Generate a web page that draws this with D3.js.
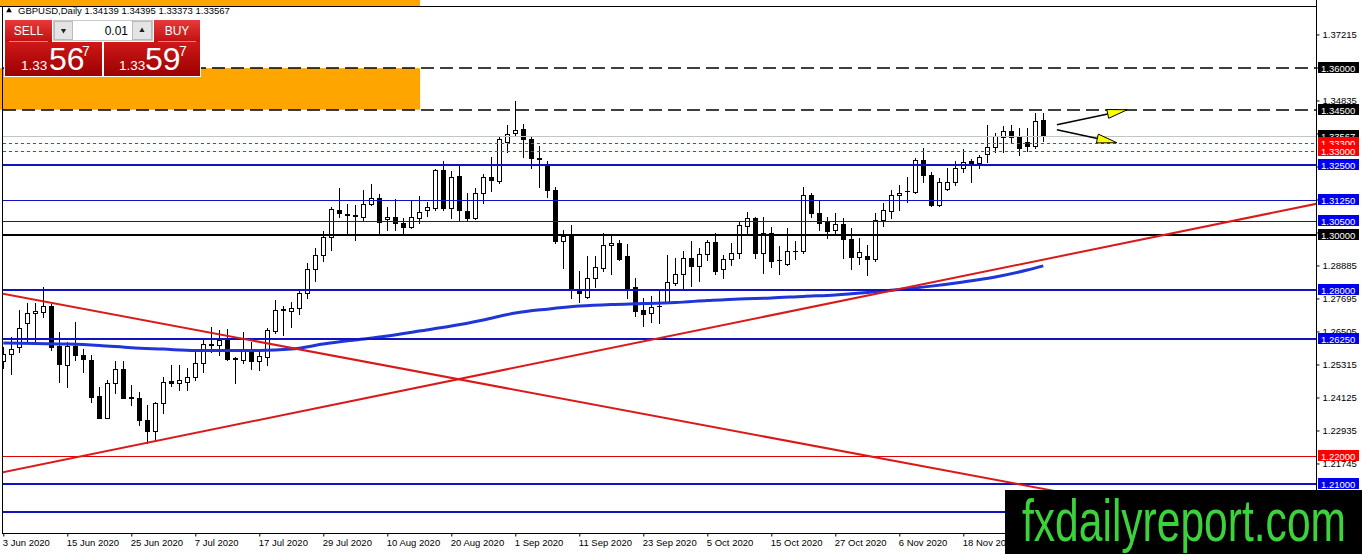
<!DOCTYPE html>
<html>
<head>
<meta charset="utf-8">
<script src="https://d3js.org/d3.v7.min.js"></script>
<style>
    body { margin: 0; background: #fff; overflow: hidden; }
    svg text { font-family: "Liberation Sans", Arial, sans-serif; }
</style>
</head>
<body>
<div id="chart"></div>
<script>
// GBPUSD daily candles, 3 Jun 2020 .. 2 Dec 2020
var opens = [1.2545,1.2569,1.2595,1.2680,1.2716,1.2722,1.2742,1.2598,1.2529,1.2598,
    1.2565,1.2547,1.2417,1.2340,1.2463,1.2514,1.2412,1.2412,1.2331,1.2292,
    1.2393,1.2472,1.2463,1.2470,1.2487,1.2535,1.2601,1.2601,1.2622,1.2554,
    1.2548,1.2578,1.2545,1.2560,1.2653,1.2728,1.2725,1.2734,1.2788,1.2877,
    1.2926,1.2990,1.3089,1.3074,1.3069,1.3065,1.3109,1.3133,1.3055,1.3065,
    1.3041,1.3026,1.3061,1.3089,1.3097,1.3233,1.3095,1.3212,1.3085,1.3059,
    1.3149,1.3209,1.3194,1.3333,1.3366,1.3381,1.3345,1.3275,1.3251,1.3161,
    1.2975,1.2996,1.2798,1.2776,1.2842,1.2881,1.2963,1.2971,1.2923,1.2810,
    1.2727,1.2716,1.2742,1.2758,1.2827,1.2857,1.2915,1.2885,1.2929,1.2972,
    1.2875,1.2911,1.2933,1.3032,1.3059,1.2933,1.3005,1.2910,1.2893,1.2942,
    1.2941,1.3143,1.3077,1.3047,1.3016,1.3037,1.2983,1.2920,1.2923,1.2911,
    1.3053,1.3085,1.3141,1.3157,1.3155,1.3267,1.3215,1.3107,1.3163,1.3188,
    1.3239,1.3266,1.3257,1.3291,1.3317,1.3351,1.3375,1.3351,1.3332,1.3320,
    1.34139];
var highs = [1.2595,1.2629,1.2728,1.2752,1.2754,1.2812,1.2749,1.2650,1.2614,1.2683,
    1.2586,1.2565,1.2451,1.2475,1.2544,1.2544,1.2459,1.2433,1.2385,1.2397,
    1.2487,1.2529,1.2530,1.2517,1.2584,1.2626,1.2668,1.2656,1.2659,1.2557,
    1.2649,1.2614,1.2578,1.2662,1.2764,1.2742,1.2758,1.2803,1.2899,1.2950,
    1.3013,1.3101,1.3167,1.3110,1.3107,1.3161,1.3182,1.3145,1.3101,1.3127,
    1.3059,1.3121,1.3139,1.3119,1.3237,1.3266,1.3230,1.3249,1.3149,1.3167,
    1.3218,1.3281,1.3354,1.3396,1.3480,1.3398,1.3354,1.3318,1.3266,1.3173,
    1.3017,1.3035,1.2867,1.2921,1.2923,1.3005,1.2999,1.2981,1.2965,1.2842,
    1.2772,1.2779,1.2800,1.2927,1.2914,1.2941,1.2975,1.2953,1.2981,1.3005,
    1.2927,1.2969,1.3047,1.3083,1.3065,1.3065,1.3029,1.2960,1.3023,1.2977,
    1.3173,1.3149,1.3121,1.3065,1.3077,1.3061,1.3023,1.2987,1.2963,1.3077,
    1.3113,1.3161,1.3179,1.3207,1.3275,1.3311,1.3227,1.3203,1.3239,1.3266,
    1.3308,1.3272,1.3287,1.3396,1.3366,1.3392,1.3396,1.3384,1.3384,1.3440,
    1.34395];
var lows = [1.2520,1.2496,1.2577,1.2614,1.2614,1.2704,1.2583,1.2469,1.2451,1.2547,
    1.2505,1.2397,1.2337,1.2337,1.2427,1.2409,1.2385,1.2313,1.2247,1.2259,
    1.2355,1.2454,1.2440,1.2440,1.2475,1.2505,1.2577,1.2566,1.2548,1.2465,
    1.2536,1.2515,1.2511,1.2530,1.2644,1.2637,1.2668,1.2713,1.2772,1.2834,
    1.2906,1.2944,1.3065,1.2999,1.2981,1.3053,1.3105,1.3005,1.3017,1.3017,
    1.3005,1.3025,1.3043,1.3068,1.3089,1.3089,1.3061,1.3053,1.3049,1.3056,
    1.3113,1.3158,1.3185,1.3297,1.3357,1.3278,1.3239,1.3173,1.3137,1.2970,
    1.2881,1.2770,1.2758,1.2770,1.2812,1.2870,1.2858,1.2908,1.2772,1.2706,
    1.2672,1.2684,1.2680,1.2758,1.2818,1.2803,1.2815,1.2834,1.2908,1.2857,
    1.2842,1.2890,1.2917,1.3005,1.2917,1.2860,1.2884,1.2858,1.2890,1.2912,
    1.2933,1.3065,1.3017,1.2989,1.3001,1.2914,1.2876,1.2893,1.2854,1.2906,
    1.3030,1.3060,1.3089,1.3116,1.3151,1.3188,1.3103,1.3103,1.3159,1.3179,
    1.3227,1.3191,1.3239,1.3260,1.3299,1.3299,1.3335,1.3287,1.3303,1.3311,
    1.33373];
var closes = [1.2569,1.2589,1.2662,1.2716,1.2724,1.2742,1.2595,1.2532,1.2598,1.2564,
    1.2550,1.2415,1.2340,1.2463,1.2514,1.2411,1.2415,1.2331,1.2292,1.2393,
    1.2469,1.2463,1.2475,1.2487,1.2535,1.2605,1.2605,1.2620,1.2550,1.2553,
    1.2584,1.2545,1.2562,1.2656,1.2728,1.2730,1.2736,1.2788,1.2875,1.2926,
    1.2990,1.3091,1.3079,1.3071,1.3066,1.3109,1.3133,1.3044,1.3065,1.3041,
    1.3026,1.3062,1.3081,1.3099,1.3233,1.3095,1.3209,1.3087,1.3059,1.3149,
    1.3206,1.3195,1.3345,1.3362,1.3378,1.3344,1.3275,1.3273,1.3159,1.2975,
    1.2996,1.2803,1.2788,1.2842,1.2882,1.2963,1.2971,1.2911,1.2806,1.2726,
    1.2715,1.2739,1.2743,1.2828,1.2857,1.2915,1.2885,1.2929,1.2972,1.2870,
    1.2911,1.2933,1.3035,1.3059,1.2933,1.3005,1.2906,1.2908,1.2941,1.2940,
    1.3143,1.3077,1.3041,1.3014,1.3037,1.2983,1.2920,1.2938,1.2911,1.3053,
    1.3089,1.3141,1.3151,1.3158,1.3267,1.3215,1.3107,1.3188,1.3191,1.3239,
    1.3263,1.3257,1.3279,1.3317,1.3354,1.3375,1.3351,1.3311,1.3320,1.3411,
    1.33567];

var dateLabels = ["3 Jun 2020", "15 Jun 2020", "25 Jun 2020", "7 Jul 2020", "17 Jul 2020",
    "29 Jul 2020", "10 Aug 2020", "20 Aug 2020", "1 Sep 2020", "11 Sep 2020", "23 Sep 2020",
    "5 Oct 2020", "15 Oct 2020", "27 Oct 2020", "6 Nov 2020", "18 Nov 2020"];
var dateLabelBars = [0, 8, 16, 24, 32, 40, 48, 56, 64, 72, 80, 88, 96, 104, 112, 120];

var priceTicks = [1.37215, 1.36025, 1.34835, 1.33645, 1.32455, 1.31265, 1.30075,
    1.28885, 1.27695, 1.26505, 1.25315, 1.24125, 1.22935, 1.21745, 1.20555];

// moving average, read every 4 bars
var maBars = [0, 4, 8, 12, 16, 20, 24, 28, 32, 36, 40, 44, 48, 52, 56, 60, 64, 68, 72,
    76, 80, 84, 88, 92, 96, 100, 104, 108, 112, 116, 120, 124, 128, 130];
var maValues = [1.2609, 1.2607, 1.2605, 1.2600, 1.2592, 1.2587, 1.2582, 1.2582, 1.2582,
    1.2587, 1.2605, 1.2620, 1.2634, 1.2652, 1.2670, 1.2692, 1.2717, 1.2731, 1.2742,
    1.2748, 1.2751, 1.2755, 1.2762, 1.2768, 1.2771, 1.2777, 1.2782, 1.2791, 1.2802,
    1.2814, 1.2829, 1.2847, 1.2872, 1.2887];

// horizontal levels drawn on the chart
var levelPrices = [1.36, 1.345, 1.33567, 1.333, 1.33, 1.325, 1.3125, 1.305, 1.30,
    1.28, 1.2625, 1.22, 1.21, 1.20];
var levelKinds = ["dash", "dash", "bid", "dot", "dot", "blue2", "blue1", "blue1", "black2",
    "blue2", "blue2", "red1", "blue2", "blue2"];

// trend lines: [bar, price] anchors
var trendUp = [[0, 1.2143], [164, 1.3110]];
var trendDown = [[0, 1.2786], [130, 1.2083]];

// rectangles: [bar from, bar to], [price low, price high]
var zoneBars = [[-1, 52.1], [-1, 52.1]];
var zonePrices = [[1.345, 1.36], [1.3824, 1.40]];

// arrows: [bar, price]
var arrowFrom = [[131.7, 1.3396], [131.7, 1.3378]];
var arrowTo = [[140.5, 1.3450], [139.2, 1.3331]];

var bidQuote = ["1.33", "56", "7"];
var askQuote = ["1.33", "59", "7"];
var lotSize = "0.01";

var lineStyles = {
    dash:   { color: "#000", width: 1.5, dash: "13,6", box: "#000" },
    bid:    { color: "#c4c4c4", width: 1, dash: null, box: "#000" },
    dot:    { color: "#ff1010", width: 1, dash: "3,3", box: "#ff0000" },
    blue2:  { color: "#1212c0", width: 2, dash: null, box: "#0000f0" },
    blue1:  { color: "#1212c0", width: 1, dash: null, box: "#0000f0" },
    black2: { color: "#000", width: 2, dash: null, box: "#000" },
    red1:   { color: "#e00000", width: 1, dash: null, box: "#ff0000" }
};

function init() {
    var w = 1362;
    var h = 554;
    var axisX = 1316.5;
    var bottomY = 533.5;

    var x = d3.scaleLinear().domain([0, 130]).range([3.3, 1043.3]);
    var y = d3.scaleLinear().domain([1.19238, 1.38241]).range([533, 6]);

    var svg = d3.select("#chart")
        .append("svg")
        .attr("width", w)
        .attr("height", h);

    svg.append("defs").append("clipPath")
        .attr("id", "plotClip")
        .append("rect")
        .attr("x", 3).attr("y", 7)
        .attr("width", axisX - 3.5).attr("height", bottomY - 7.5);

    // rectangles (orange zones)
    svg.selectAll(".zone")
        .data(zoneBars)
        .enter()
        .append("rect")
        .attr("class", "zone")
        .attr("x", function (d) { return Math.max(0, x(d[0])); })
        .attr("width", function (d) { return x(d[1]) - Math.max(0, x(d[0])); })
        .attr("y", function (d, i) { return Math.max(0, y(zonePrices[i][1])); })
        .attr("height", function (d, i) { return y(zonePrices[i][0]) - Math.max(0, y(zonePrices[i][1])); })
        .attr("fill", "#ffa500");

    var plot = svg.append("g").attr("clip-path", "url(#plotClip)");

    // candles
    var bars = d3.range(opens.length);
    var candle = plot.selectAll(".candle")
        .data(bars)
        .enter()
        .append("g")
        .attr("class", "candle");

    candle.append("line")
        .attr("x1", function (i) { return Math.round(x(i)) + 0.5; })
        .attr("x2", function (i) { return Math.round(x(i)) + 0.5; })
        .attr("y1", function (i) { return Math.round(y(highs[i])); })
        .attr("y2", function (i) { return Math.round(y(lows[i])) + 1; })
        .attr("stroke", "#000")
        .attr("stroke-width", 1);

    candle.append("rect")
        .attr("x", function (i) { return Math.round(x(i)) - 1.5; })
        .attr("width", 4)
        .attr("y", function (i) { return Math.round(y(Math.max(opens[i], closes[i]))) + 0.5; })
        .attr("height", function (i) {
            var hh = Math.round(y(Math.min(opens[i], closes[i]))) - Math.round(y(Math.max(opens[i], closes[i])));
            return Math.max(hh, 0.01);
        })
        .attr("fill", function (i) { return closes[i] >= opens[i] ? "#fff" : "#000"; })
        .attr("stroke", "#000")
        .attr("stroke-width", 1);

    // moving average
    var maLine = d3.line()
        .x(function (d, i) { return x(maBars[i]); })
        .y(function (d) { return y(d); })
        .curve(d3.curveMonotoneX);

    plot.append("path")
        .datum(maValues)
        .attr("d", maLine)
        .attr("fill", "none")
        .attr("stroke", "#1f35d8")
        .attr("stroke-width", 3);

    // horizontal levels
    plot.selectAll(".level")
        .data(levelPrices)
        .enter()
        .append("line")
        .attr("class", "level")
        .attr("x1", 3)
        .attr("x2", axisX)
        .attr("y1", function (d, i) { var s = lineStyles[levelKinds[i]]; var v = Math.round(y(d)); return s.width === 1 ? v + 0.5 : v; })
        .attr("y2", function (d, i) { var s = lineStyles[levelKinds[i]]; var v = Math.round(y(d)); return s.width === 1 ? v + 0.5 : v; })
        .attr("stroke", function (d, i) { return lineStyles[levelKinds[i]].color; })
        .attr("stroke-width", function (d, i) { return lineStyles[levelKinds[i]].width; })
        .attr("stroke-dasharray", function (d, i) { return lineStyles[levelKinds[i]].dash; });

    // trend lines, extended over the whole chart
    function extend(a) {
        var slope = (a[1][1] - a[0][1]) / (a[1][0] - a[0][0]);
        var b0 = -5, b1 = 200;
        return [[x(b0), y(a[0][1] + slope * (b0 - a[0][0]))], [x(b1), y(a[0][1] + slope * (b1 - a[0][0]))]];
    }
    plot.selectAll(".trend")
        .data([trendUp, trendDown])
        .enter()
        .append("line")
        .attr("class", "trend")
        .attr("x1", function (d) { return extend(d)[0][0]; })
        .attr("y1", function (d) { return extend(d)[0][1]; })
        .attr("x2", function (d) { return extend(d)[1][0]; })
        .attr("y2", function (d) { return extend(d)[1][1]; })
        .attr("stroke", "#d91a1a")
        .attr("stroke-width", 2);

    // arrows
    arrowFrom.forEach(function (f, i) {
        var x0 = x(f[0]), y0 = y(f[1]);
        var x1 = x(arrowTo[i][0]), y1 = y(arrowTo[i][1]);
        var len = Math.sqrt((x1 - x0) * (x1 - x0) + (y1 - y0) * (y1 - y0));
        var ux = (x1 - x0) / len, uy = (y1 - y0) / len;
        var bx = x1 - ux * 20, by = y1 - uy * 20;
        plot.append("line")
            .attr("x1", x0).attr("y1", y0).attr("x2", bx).attr("y2", by)
            .attr("stroke", "#000").attr("stroke-width", 1.5);
        plot.append("polygon")
            .attr("points", [[x1, y1], [bx - uy * 4.5, by + ux * 4.5], [bx + uy * 4.5, by - ux * 4.5]].join(" "))
            .attr("fill", "#ffff00")
            .attr("stroke", "#000")
            .attr("stroke-width", 1);
    });

    // frame
    svg.append("line").attr("x1", 0).attr("x2", axisX).attr("y1", 6.5).attr("y2", 6.5)
        .attr("stroke", "#000").attr("stroke-width", 1);
    svg.append("line").attr("x1", 2.5).attr("x2", 2.5).attr("y1", 6).attr("y2", bottomY)
        .attr("stroke", "#000").attr("stroke-width", 1);
    svg.append("line").attr("x1", 2).attr("x2", axisX).attr("y1", bottomY).attr("y2", bottomY)
        .attr("stroke", "#000").attr("stroke-width", 1);
    svg.append("line").attr("x1", axisX).attr("x2", axisX).attr("y1", 0).attr("y2", bottomY)
        .attr("stroke", "#000").attr("stroke-width", 1);

    // price axis
    var yAxis = svg.append("g")
        .attr("transform", "translate(" + axisX + ",0)")
        .call(d3.axisRight(y).tickValues(priceTicks).tickFormat(d3.format(".5f")).tickSize(3).tickPadding(3));
    yAxis.select(".domain").remove();
    yAxis.selectAll("text").attr("font-size", "9.5px").attr("fill", "#000")
        .attr("font-family", "Liberation Sans, Arial, sans-serif");
    yAxis.selectAll("line").attr("stroke", "#000");

    // date axis
    var xAxis = svg.append("g")
        .attr("transform", "translate(0," + bottomY + ")")
        .call(d3.axisBottom(x).tickValues(dateLabelBars)
            .tickFormat(function (d, i) { return dateLabels[i]; }).tickSize(3).tickPadding(3));
    xAxis.select(".domain").remove();
    xAxis.selectAll("line").attr("stroke", "#000");
    xAxis.selectAll("text").attr("font-size", "9.5px").attr("fill", "#000")
        .attr("text-anchor", "start").attr("dx", "-1")
        .attr("font-family", "Liberation Sans, Arial, sans-serif");

    // level labels on the price axis
    var labels = svg.selectAll(".lvlLabel")
        .data(levelPrices)
        .enter()
        .append("g")
        .attr("class", "lvlLabel")
        .attr("transform", function (d) { return "translate(" + (axisX + 1.5) + "," + Math.round(y(d)) + ")"; });
    labels.append("rect")
        .attr("x", 0).attr("y", -6).attr("width", 41).attr("height", 11)
        .attr("fill", function (d, i) { return lineStyles[levelKinds[i]].box; });
    labels.append("text")
        .attr("x", 3).attr("y", 3.5)
        .attr("font-size", "9.5px")
        .attr("fill", "#fff")
        .text(function (d) { return d3.format(".5f")(d); });

    // header
    svg.append("path")
        .attr("d", d3.symbol().type(d3.symbolTriangle).size(14)())
        .attr("transform", "translate(9,10.5)")
        .attr("fill", "#000");
    var last = opens.length - 1;
    svg.append("text")
        .attr("x", 18).attr("y", 14)
        .attr("font-size", "9.5px")
        .attr("fill", "#000")
        .text("GBPUSD,Daily  " + [opens[last], highs[last], lows[last], closes[last]].map(d3.format(".5f")).join(" "));

    // one click trading panel
    var defs = svg.select("defs");
    var g1 = defs.append("linearGradient").attr("id", "btnRed").attr("x1", 0).attr("x2", 0).attr("y1", 0).attr("y2", 1);
    g1.append("stop").attr("offset", "0%").attr("stop-color", "#e83a3a");
    g1.append("stop").attr("offset", "100%").attr("stop-color", "#c01010");
    var g2 = defs.append("linearGradient").attr("id", "quoteRed").attr("x1", 0).attr("x2", 0).attr("y1", 0).attr("y2", 1);
    g2.append("stop").attr("offset", "0%").attr("stop-color", "#d01818");
    g2.append("stop").attr("offset", "100%").attr("stop-color", "#9a0000");

    var panel = svg.append("g");
    panel.append("rect").attr("x", 4).attr("y", 19).attr("width", 197).attr("height", 58)
        .attr("fill", "#fff");
    panel.append("rect").attr("x", 5).attr("y", 20).attr("width", 47).attr("height", 22).attr("fill", "url(#btnRed)");
    panel.append("rect").attr("x", 154).attr("y", 20).attr("width", 46).attr("height", 22).attr("fill", "url(#btnRed)");
    panel.append("rect").attr("x", 5).attr("y", 42).attr("width", 97).attr("height", 34).attr("fill", "url(#quoteRed)");
    panel.append("rect").attr("x", 104).attr("y", 42).attr("width", 96).attr("height", 34).attr("fill", "url(#quoteRed)");
    panel.append("line").attr("x1", 9).attr("x2", 48).attr("y1", 41.5).attr("y2", 41.5).attr("stroke", "#f08080");
    panel.append("line").attr("x1", 158).attr("x2", 196).attr("y1", 41.5).attr("y2", 41.5).attr("stroke", "#f08080");
    panel.append("text").attr("x", 28.5).attr("y", 35).attr("text-anchor", "middle")
        .attr("font-size", "12px").attr("fill", "#fff").text("SELL");
    panel.append("text").attr("x", 177).attr("y", 35).attr("text-anchor", "middle")
        .attr("font-size", "12px").attr("fill", "#fff").text("BUY");

    // lot box
    panel.append("rect").attr("x", 53.5).attr("y", 20.5).attr("width", 99).attr("height", 20)
        .attr("fill", "#fff").attr("stroke", "#c8c8c8");
    panel.append("rect").attr("x", 54.5).attr("y", 21.5).attr("width", 18).attr("height", 18)
        .attr("fill", "#e4e4e4").attr("stroke", "#bbb");
    panel.append("rect").attr("x", 132.5).attr("y", 21.5).attr("width", 19).attr("height", 18)
        .attr("fill", "#e4e4e4").attr("stroke", "#bbb");
    panel.append("path").attr("d", d3.symbol().type(d3.symbolTriangle).size(12)())
        .attr("transform", "translate(63.5,30.5) rotate(180)").attr("fill", "#222");
    panel.append("path").attr("d", d3.symbol().type(d3.symbolTriangle).size(12)())
        .attr("transform", "translate(142,30.5)").attr("fill", "#222");
    panel.append("text").attr("x", 128).attr("y", 35).attr("text-anchor", "end")
        .attr("font-size", "12px").attr("fill", "#000").text(lotSize);

    // quotes
    [[bidQuote, 21, 49, 82], [askQuote, 119, 145, 179]].forEach(function (q) {
        panel.append("text").attr("x", q[1]).attr("y", 70).attr("font-size", "13.5px")
            .attr("fill", "#fff").text(q[0][0]);
        panel.append("text").attr("x", q[2]).attr("y", 70).attr("font-size", "32px")
            .attr("fill", "#fff").text(q[0][1]);
        panel.append("text").attr("x", q[3]).attr("y", 56).attr("font-size", "14px")
            .attr("fill", "#fff").text(q[0][2]);
    });

    // watermark
    svg.append("rect").attr("x", 1005).attr("y", 490).attr("width", 357).attr("height", 64)
        .attr("fill", "#000");
    svg.append("text").attr("x", 1022).attr("y", 541)
        .attr("font-size", "60px")
        .attr("textLength", 324)
        .attr("lengthAdjust", "spacingAndGlyphs")
        .attr("fill", "#3cd23c")
        .text("fxdailyreport.com");
}

window.onload = init;
</script>
</body>
</html>
